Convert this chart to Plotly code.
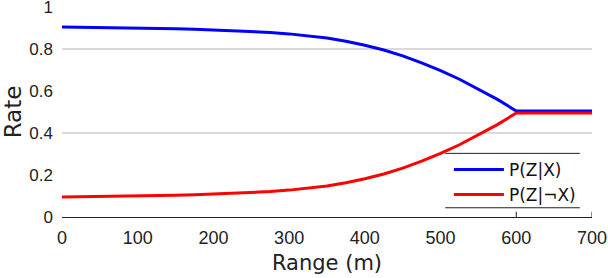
import plotly.graph_objects as go

range_m = [0, 25, 50, 75, 100, 125, 150, 175, 200, 225, 250, 275, 300, 325, 350,
           375, 400, 425, 450, 475, 500, 525, 550, 575, 600, 650, 700]
p_z_x = [0.905, 0.904, 0.903, 0.902, 0.900, 0.898, 0.896, 0.894, 0.891, 0.888,
         0.884, 0.879, 0.872, 0.863, 0.852, 0.837, 0.818, 0.795, 0.767, 0.734,
         0.697, 0.656, 0.610, 0.560, 0.505, 0.505, 0.505]
p_z_notx = [0.095, 0.096, 0.097, 0.098, 0.100, 0.102, 0.104, 0.106, 0.109, 0.112,
            0.116, 0.121, 0.128, 0.137, 0.148, 0.163, 0.182, 0.205, 0.233, 0.266,
            0.303, 0.344, 0.390, 0.440, 0.495, 0.495, 0.495]
x_ticks = [0, 100, 200, 300, 400, 500, 600, 700]
y_ticks = [0, 0.2, 0.4, 0.6, 0.8, 1]
y_tick_labels = ["0", "0.2", "0.4", "0.6", "0.8", "1"]
grid_levels = [0.4, 0.8]

fig = go.Figure()
fig.add_trace(go.Scatter(x=range_m, y=p_z_x, mode="lines", name="P(Z|X)",
                         line=dict(color="#0000ff", width=3)))
fig.add_trace(go.Scatter(x=range_m, y=p_z_notx, mode="lines", name="P(Z|¬X)",
                         line=dict(color="#ff0000", width=3)))

shapes = []
for g in grid_levels:
    shapes.append(dict(type="line", xref="paper", yref="y", x0=0, x1=1, y0=g, y1=g,
                       line=dict(color="#b5b5b5", width=1), layer="below"))
# legend top/bottom rules
for yy in [0.303, 0.044]:
    shapes.append(dict(type="line", xref="paper", yref="paper", x0=0.723, x1=0.977,
                       y0=yy, y1=yy, line=dict(color="#222222", width=1), layer="above"))
# x-axis ticks at 600/700 (inside)
for xv in [600, 700]:
    shapes.append(dict(type="line", xref="x", yref="paper", x0=xv, x1=xv, y0=0, y1=0.025,
                       line=dict(color="#222222", width=1)))

fig.update_layout(
    width=608, height=278,
    margin=dict(l=62, r=16, t=7, b=61, autoexpand=False),
    paper_bgcolor="white", plot_bgcolor="white",
    showlegend=True,
    legend=dict(x=0.73, y=0.31, xanchor="left", yanchor="top",
                bgcolor="rgba(255,255,255,0)", borderwidth=0,
                font=dict(family="DejaVu Sans", size=17, color="#111111"),
                tracegroupgap=0, itemwidth=50),
    shapes=shapes,
    xaxis=dict(range=[0, 700], tickvals=x_ticks, showgrid=False, zeroline=False,
               showline=True, linecolor="#222222", linewidth=1, ticks="",
               automargin=False,
               ticklabelstandoff=4, ticklabeloverflow="allow",
               tickfont=dict(family="Liberation Sans", size=18, color="#222222"),
               title=dict(text="Range (m)", standoff=8,
                          font=dict(family="DejaVu Sans", size=21, color="#222222"))),
    yaxis=dict(range=[0, 1], tickvals=y_ticks, ticktext=y_tick_labels,
               showgrid=False, zeroline=False, showline=False, ticks="",
               automargin=False,
               ticklabelstandoff=8, ticklabeloverflow="allow",
               tickfont=dict(family="Liberation Sans", size=17, color="#222222"),
               title=dict(text="Rate", standoff=7,
                          font=dict(family="DejaVu Sans", size=23, color="#222222"))),
)

fig.write_html("out.html", config={"displayModeBar": False},
               post_script="document.body.style.margin='0';")
